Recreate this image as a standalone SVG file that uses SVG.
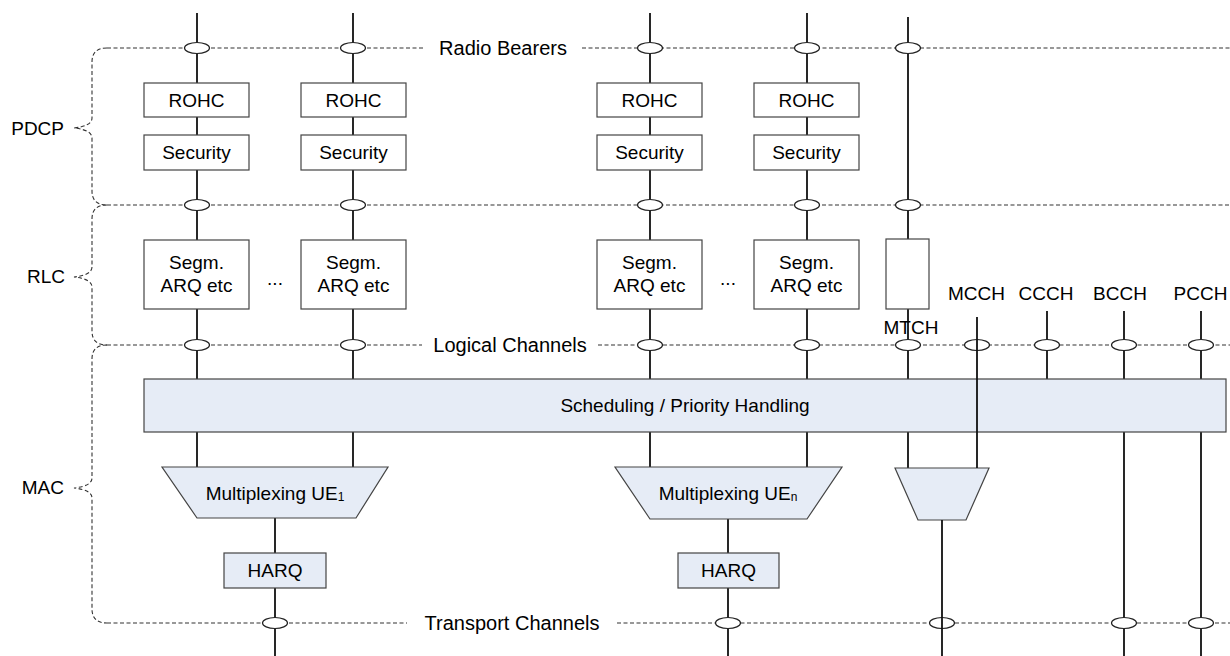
<svg xmlns="http://www.w3.org/2000/svg" width="1230" height="656" viewBox="0 0 1230 656">
<style>
text{font-family:"Liberation Sans",Arial,sans-serif;font-size:19px;fill:#000;text-anchor:middle;dominant-baseline:central}
.lbl{text-anchor:end}
.big{font-size:20px}
.dash{fill:none;stroke:#333;stroke-width:1.1;stroke-dasharray:4 2.5}
.ln{stroke:#111;stroke-width:1.8;fill:none}
.box{fill:#fff;stroke:#444;stroke-width:1.2}
.mac{fill:#e6ecf6;stroke:#444;stroke-width:1.2}
.el{fill:#fff;stroke:#222;stroke-width:1.2}
</style>
<defs>
<ellipse id="sap" cx="0" cy="0" rx="12.5" ry="5.5"/>
</defs>

<g id="braces">
<path class="dash" d="M107,48 Q92,48 92,62 L92,118 Q92,126 74,128 Q92,130 92,138 L92,191 Q92,205 107,205"/>
<path class="dash" d="M107,205 Q92,205 92,219 L92,267 Q92,275 74,277 Q92,279 92,287 L92,331 Q92,345 107,345"/>
<path class="dash" d="M107,345 Q92,345 92,359 L92,478 Q92,486 74,488 Q92,490 92,498 L92,609 Q92,623 107,623"/>
<text class="lbl" x="64" y="128">PDCP</text>
<text class="lbl" x="65" y="276">RLC</text>
<text class="lbl" x="64" y="487">MAC</text>
</g>

<g id="layer-lines">
<path class="dash" d="M107,48 H423 M582,48 H1230"/>
<path class="dash" d="M107,205 H1230"/>
<path class="dash" d="M107,345 H422 M598,345 H1230"/>
<path class="dash" d="M107,623 H407 M617,623 H1230"/>
<text class="big" x="503" y="48">Radio Bearers</text>
<text class="big" x="510" y="345">Logical Channels</text>
<text class="big" x="512" y="623">Transport Channels</text>
</g>

<g id="connectors">
<path class="ln" d="M197,13 V467 M353,13 V467 M650,13 V467 M807,13 V467 M908,17 V468"/>
<path class="ln" d="M1047,311 V379 M1124,311 V656 M1201,311 V656"/>
<path class="ln" d="M275,518 V656 M728,519 V656"/>
</g>

<g id="scheduling">
<rect class="mac" x="144" y="379" width="1082" height="53"/>
<text x="685" y="405">Scheduling / Priority Handling</text>
</g>

<g id="sap-points">
<use href="#sap" class="el" x="197" y="48"/>
<use href="#sap" class="el" x="353" y="48"/>
<use href="#sap" class="el" x="650" y="48"/>
<use href="#sap" class="el" x="807" y="48"/>
<use href="#sap" class="el" x="908" y="48"/>
<use href="#sap" class="el" x="197" y="205"/>
<use href="#sap" class="el" x="353" y="205"/>
<use href="#sap" class="el" x="650" y="205"/>
<use href="#sap" class="el" x="807" y="205"/>
<use href="#sap" class="el" x="908" y="205"/>
<use href="#sap" class="el" x="197" y="345"/>
<use href="#sap" class="el" x="353" y="345"/>
<use href="#sap" class="el" x="650" y="345"/>
<use href="#sap" class="el" x="807" y="345"/>
<use href="#sap" class="el" x="908" y="345"/>
<use href="#sap" class="el" x="977" y="345"/>
<use href="#sap" class="el" x="1047" y="345"/>
<use href="#sap" class="el" x="1124" y="345"/>
<use href="#sap" class="el" x="1201" y="345"/>
<use href="#sap" class="el" x="275" y="623"/>
<use href="#sap" class="el" x="728" y="623"/>
<use href="#sap" class="el" x="942" y="623"/>
<use href="#sap" class="el" x="1124" y="623"/>
<use href="#sap" class="el" x="1201" y="623"/>
</g>

<g id="pdcp-1">
<rect class="box" x="144" y="83" width="105" height="34"/><text x="196.5" y="100">ROHC</text>
<rect class="box" x="144" y="135" width="105" height="35"/><text x="196.5" y="152.5">Security</text>
</g>
<g id="pdcp-2">
<rect class="box" x="301" y="83" width="105" height="34"/><text x="353.5" y="100">ROHC</text>
<rect class="box" x="301" y="135" width="105" height="35"/><text x="353.5" y="152.5">Security</text>
</g>
<g id="pdcp-3">
<rect class="box" x="597" y="83" width="105" height="34"/><text x="649.5" y="100">ROHC</text>
<rect class="box" x="597" y="135" width="105" height="35"/><text x="649.5" y="152.5">Security</text>
</g>
<g id="pdcp-4">
<rect class="box" x="754" y="83" width="105" height="34"/><text x="806.5" y="100">ROHC</text>
<rect class="box" x="754" y="135" width="105" height="35"/><text x="806.5" y="152.5">Security</text>
</g>

<g id="rlc-1">
<rect class="box" x="144" y="240" width="105" height="69"/>
<text x="196.5" y="262">Segm.</text><text x="196.5" y="285">ARQ etc</text>
</g>
<g id="rlc-2">
<rect class="box" x="301" y="240" width="105" height="69"/>
<text x="353.5" y="262">Segm.</text><text x="353.5" y="285">ARQ etc</text>
</g>
<g id="rlc-3">
<rect class="box" x="597" y="240" width="105" height="69"/>
<text x="649.5" y="262">Segm.</text><text x="649.5" y="285">ARQ etc</text>
</g>
<g id="rlc-4">
<rect class="box" x="754" y="240" width="105" height="69"/>
<text x="806.5" y="262">Segm.</text><text x="806.5" y="285">ARQ etc</text>
</g>
<g id="ellipsis">
<text x="275" y="278">...</text>
<text x="728" y="278">...</text>
</g>
<g id="mtch">
<rect class="box" x="886" y="239" width="43" height="70"/>
<text x="911" y="327">MTCH</text>
</g>

<g id="channel-labels">
<text x="976.5" y="293">MCCH</text>
<text x="1046" y="293">CCCH</text>
<text x="1120" y="293">BCCH</text>
<text x="1200.5" y="293">PCCH</text>
</g>

<g id="mux-1">
<polygon class="mac" points="162,467 388,467 356,518 197,518"/>
<text x="275" y="493">Multiplexing UE<tspan font-size="12" dy="4">1</tspan></text>
</g>
<g id="mux-n">
<polygon class="mac" points="615,467 842,467 807,519 650,519"/>
<text x="728" y="493">Multiplexing UE<tspan font-size="12" dy="4">n</tspan></text>
</g>
<g id="mux-mbms">
<polygon class="mac" points="895,468 989,468 966,520 918,520"/>
</g>
<g id="harq-1">
<rect class="mac" x="224" y="553" width="102" height="35"/><text x="275" y="570.5">HARQ</text>
</g>
<g id="harq-n">
<rect class="mac" x="678" y="553" width="101" height="35"/><text x="728.5" y="570.5">HARQ</text>
</g>

<g id="through-lines">
<path class="ln" d="M977,317 V468 M942,520 V656"/>
</g>
</svg>
